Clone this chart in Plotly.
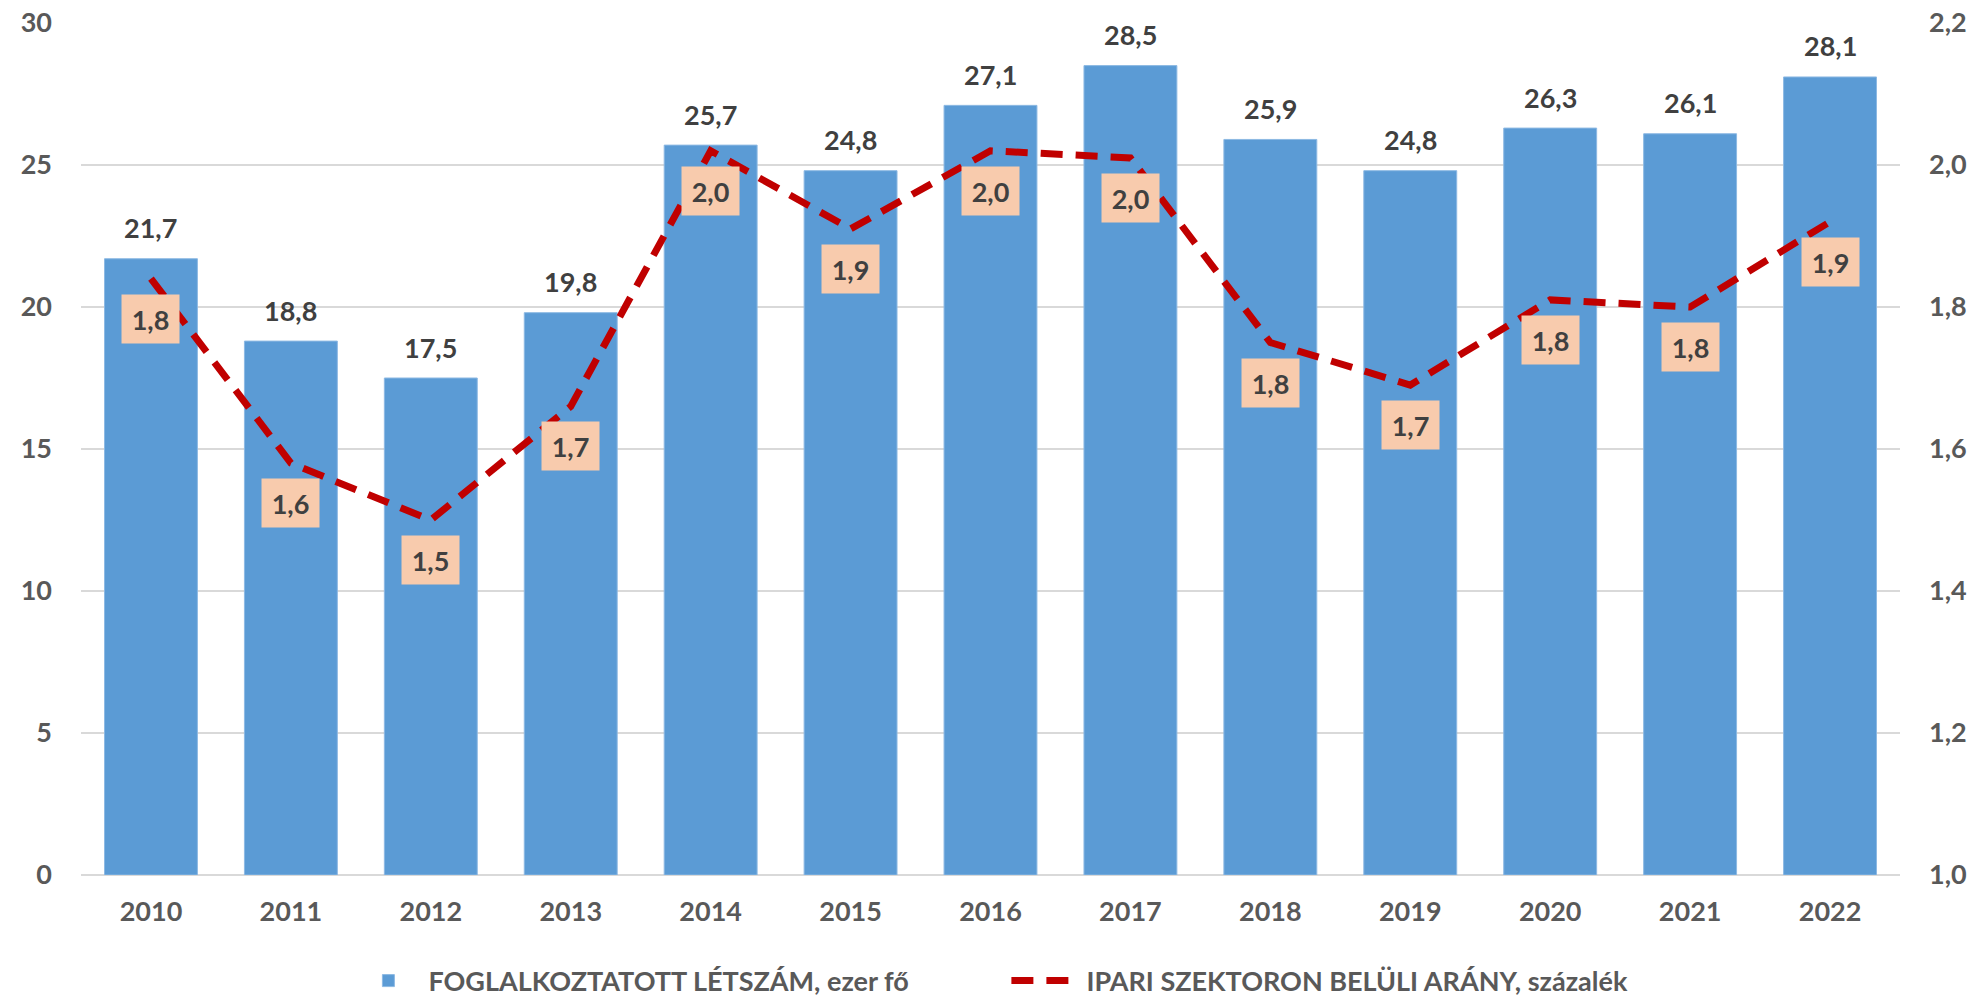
import plotly.graph_objects as go

# Data
years = ["2010", "2011", "2012", "2013", "2014", "2015", "2016",
         "2017", "2018", "2019", "2020", "2021", "2022"]
letszam = [21.7, 18.8, 17.5, 19.8, 25.7, 24.8, 27.1, 28.5, 25.9, 24.8, 26.3, 26.1, 28.1]
arany = [1.84, 1.58, 1.50, 1.66, 2.02, 1.91, 2.02, 2.01, 1.75, 1.69, 1.81, 1.80, 1.92]

bar_name = "FOGLALKOZTATOTT LÉTSZÁM, ezer fő"
line_name = "IPARI SZEKTORON BELÜLI ARÁNY, százalék"

FONT = "Lato"
GRAY = "#595959"
DARK = "#404040"

fig = go.Figure()

fig.add_trace(go.Bar(
    x=years, y=letszam, name=bar_name,
    marker=dict(color="#5B9BD5", line=dict(color="#8DB9E3", width=1)),
    yaxis="y",
))

fig.add_trace(go.Scatter(
    x=years, y=arany, name=line_name, mode="lines",
    line=dict(color="#C00000", width=7, dash="22px,13px"),
    yaxis="y2",
))

annotations = []
# value labels above the bars (category axis -> use the category index)
for i, v in enumerate(letszam):
    annotations.append(dict(
        x=i, y=v, xref="x", yref="y", text=f"{v:.1f}".replace(".", ","),
        showarrow=False, yanchor="middle", yshift=31,
        font=dict(family=FONT, size=27, color=DARK, weight="bold"),
    ))
# boxed labels under the line points
for i, v in enumerate(arany):
    annotations.append(dict(
        x=i, y=v, xref="x", yref="y2", text=f"{v:.1f}".replace(".", ","),
        showarrow=False, yanchor="middle", yshift=-40,
        bgcolor="#F8CBAD", width=57, height=48, borderpad=0,
        font=dict(family=FONT, size=27, color=DARK, weight="bold"),
    ))

tickfont = dict(family=FONT, size=27, color=GRAY, weight="bold")

fig.update_layout(
    width=1985, height=997,
    margin=dict(l=81, r=85, t=23, b=122),
    plot_bgcolor="white", paper_bgcolor="white",
    separators=", ",
    bargap=0.336,
    font=dict(family=FONT, color=GRAY),
    xaxis=dict(type="category", range=[-0.5, len(years) - 0.5], tickfont=tickfont,
               showgrid=False, showline=False, ticks="", ticklabelstandoff=18,
               automargin=False),
    yaxis=dict(range=[0, 30], dtick=5, tickfont=tickfont,
               showgrid=True, gridcolor="#D9D9D9", gridwidth=2,
               zeroline=True, zerolinecolor="#D9D9D9", zerolinewidth=2,
               ticklabelstandoff=28, automargin=False, ticklabeloverflow="allow"),
    yaxis2=dict(range=[1.0, 2.2], dtick=0.2, tickformat=".1f",
                overlaying="y", side="right", showgrid=False,
                zeroline=False, tickfont=tickfont, ticklabelstandoff=28,
                automargin=False, ticklabeloverflow="allow"),
    legend=dict(orientation="h", x=0.147, xanchor="left",
                yref="container", y=0.016, yanchor="middle", traceorder="normal",
                itemwidth=70, entrywidth=573, entrywidthmode="pixels",
                font=dict(family=FONT, size=27, color=GRAY, weight="bold")),
    annotations=annotations,
)

# drop the default 8px page margin so the figure fills the window exactly
fig.write_html("out.html", config={"displayModeBar": False},
               post_script="document.body.style.margin = '0';")
